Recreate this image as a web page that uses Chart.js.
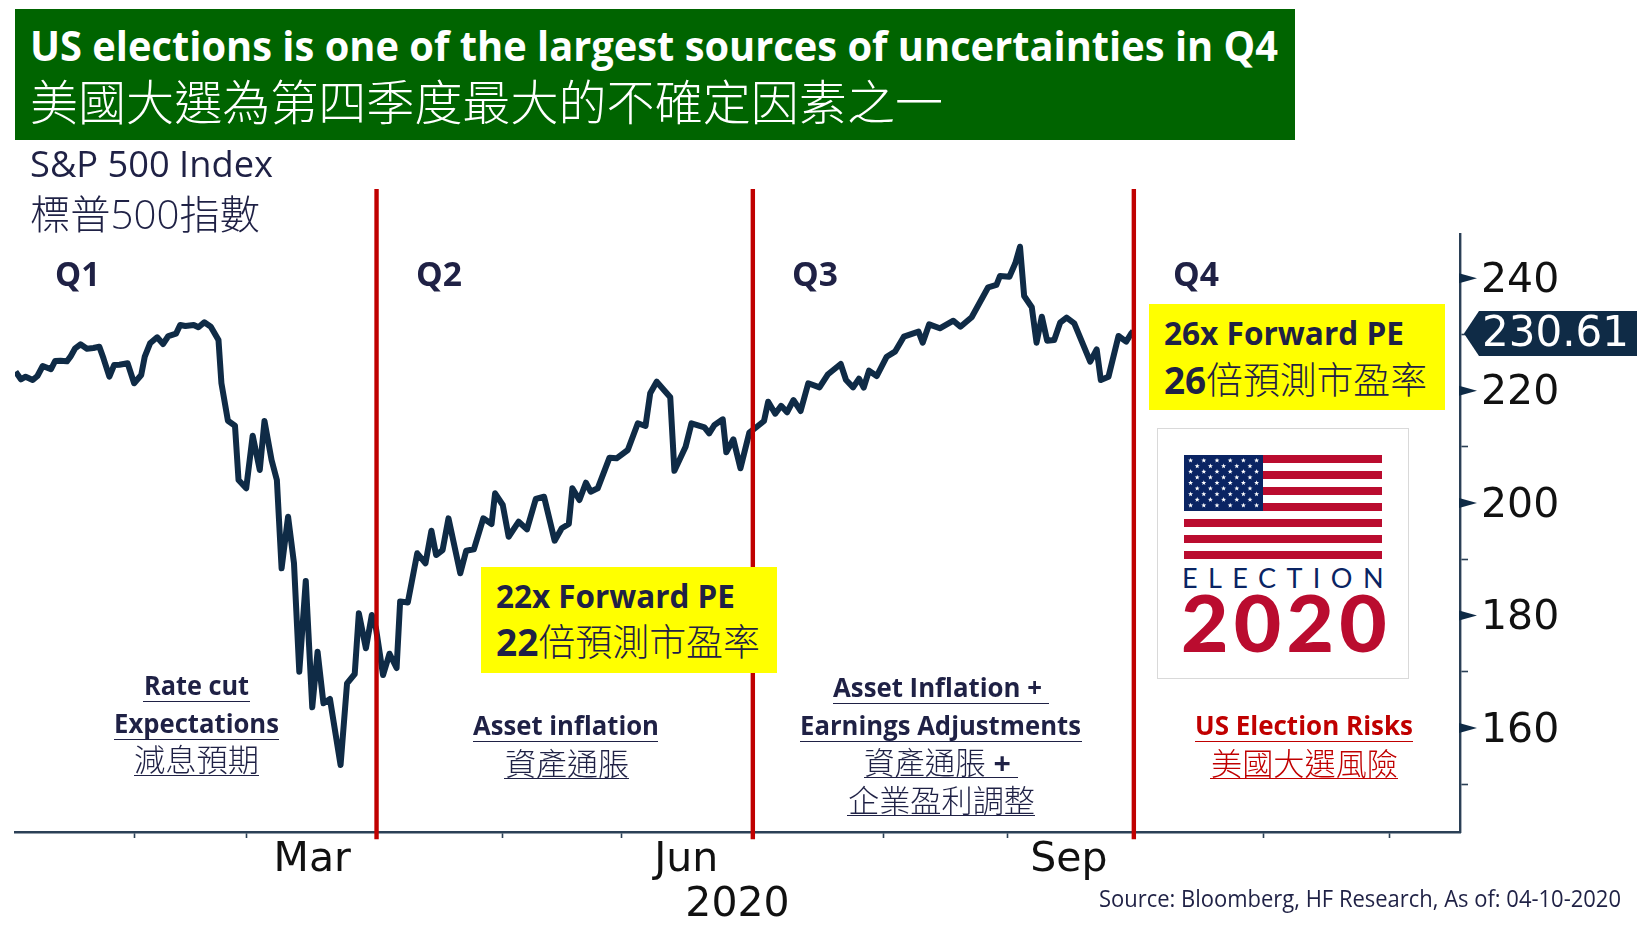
<!DOCTYPE html>
<html lang="zh-Hant">
<head>
<meta charset="utf-8">
<title>S&amp;P 500 Index</title>
<script src="https://cdn.jsdelivr.net/npm/chart.js@4/dist/chart.umd.min.js"></script>
<style>
html,body{margin:0;padding:0;background:#fff;width:1637px;height:930px;overflow:hidden}
#stage{position:relative;width:1637px;height:930px;overflow:hidden;font-family:'Open Sans','Noto Sans CJK TC',sans-serif}
canvas{position:absolute;left:0;top:0}
.box{position:absolute}
.t{position:absolute;white-space:nowrap;transform-origin:0 0;line-height:1.2}
.rule{position:absolute;height:0;border-top:1.6px solid}
</style>
</head>
<body>
<div id="stage">
<canvas id="c" width="1637" height="930"></canvas>
</div>
<script>
// Trading-day position of each vertex (0 = first day of the window)
const dayIndex = [0.1,1.0,1.8,3.0,3.8,4.7,6.1,6.8,7.7,8.8,9.4,10.2,11.1,12.2,13.3,14.3,15.0,16.0,16.8,17.7,19.1,20.2,21.4,22.0,22.9,24.1,25.1,26.0,27.3,28.0,28.9,30.3,31.1,32.1,33.2,34.5,35.0,36.1,37.3,37.9,39.2,40.3,41.5,42.3,43.5,44.4,45.2,46.3,47.3,48.2,49.3,50.4,51.3,52.3,53.4,55.2,56.3,57.6,58.3,59.5,60.5,61.2,62.4,63.5,64.7,65.3,66.6,68.2,69.6,70.6,71.4,72.5,73.5,75.5,76.5,77.8,79.4,80.8,81.4,82.7,83.7,85.4,86.8,88.3,89.7,91.5,92.7,93.9,94.5,95.7,96.8,97.6,98.8,100.8,102.0,103.9,105.6,106.9,107.7,108.8,111.1,111.8,113.7,114.7,116.9,117.7,118.6,120.0,120.6,121.8,123.0,124.5,125.1,127.0,127.7,128.9,129.9,130.9,132.0,133.2,134.5,136.4,137.8,140.0,140.9,142.1,143.1,143.9,144.8,146.1,147.8,149.2,150.7,153.2,153.9,155.0,156.8,159.1,160.3,162.2,165.0,166.4,167.0,168.6,169.6,170.4,171.1,172.4,173.2,174.1,175.0,176.2,177.2,178.3,179.6,182.3,183.4,184.1,185.4,187.1,188.4,189.2,189.6];
// S&P 500 index values read at those vertices
const closeValue = [223.38,222.03,222.49,221.9,222.61,224.39,223.81,225.28,225.34,225.23,226.05,227.54,228.25,227.47,227.6,227.83,225.76,222.49,224.57,224.62,224.87,221.32,222.79,226.05,228.43,229.5,228.31,229.73,230.14,231.69,231.51,231.69,231.28,232.17,231.39,229.02,221.32,214.66,213.77,204.11,202.63,211.99,205.89,214.61,207.67,204.11,188.39,197.58,189.34,170.0,186.14,163.67,173.56,164.38,165.14,153.39,167.93,169.59,180.39,174.16,180.09,177.72,169.41,173.2,170.66,182.51,182.31,191.07,189.29,195.09,190.76,191.65,197.29,187.51,191.53,191.78,197.29,196.28,201.74,199.66,194.02,196.69,195.33,200.73,201.14,193.31,195.52,196.28,202.63,200.55,203.63,202.03,202.63,208.08,207.97,209.45,214.2,213.72,219.54,221.6,218.82,205.76,210.03,214.2,213.49,212.42,213.9,214.91,209.04,211.35,206.19,212.53,213.01,214.61,218.04,215.91,217.31,216.17,218.34,216.39,221.32,220.6,222.88,224.75,221.9,220.6,222.15,220.57,223.56,222.61,226.05,226.94,229.61,230.5,228.54,231.81,231.1,232.45,231.39,233.06,238.4,238.81,240.41,240.28,242.67,245.62,236.85,234.84,228.54,233.17,228.9,229.02,232.1,232.99,231.99,225.16,227.36,221.9,222.49,229.73,228.72,230.09,230.61];
const quarterEndDay = [61.3,125.1,189.7];
const monthStartDay = [20.3,39.3,61.3,82.7,102.9,125,147.3,168.3,189.7,211.7,233];
const axisLabels = ['Mar','Jun','Sep'];
const axisLabelDay = [50.4,113.8,178.7];
const yearLabel = '2020';
const yMajorTicks = [160,180,200,220,240];
const yMinorTicks = [150,170,190,210,230];
const lastValueLabel = '230.61';
const redLineTop = 255.89, redLineBottom = 140.2;

const NAVY='#0F2B46', AXIS='#2B4056', RED='#C00000', INK='#1F2145';

const majorMarks = {
  id:'majorMarks',
  afterDraw(chart){
    const {ctx, scales:{y}} = chart;
    const x0 = y.left;
    ctx.save();
    ctx.fillStyle = NAVY;
    yMajorTicks.forEach(v=>{
      const p = y.getPixelForValue(v);
      ctx.beginPath();
      ctx.moveTo(x0-1,p-5);ctx.lineTo(x0+17,p);ctx.lineTo(x0-1,p+5);ctx.closePath();ctx.fill();
    });
    const cy = y.getPixelForValue(closeValue[closeValue.length-1])+2.5;
    ctx.beginPath();
    ctx.moveTo(x0+4,cy);ctx.lineTo(x0+19,cy-22.5);ctx.lineTo(1637,cy-22.5);ctx.lineTo(1637,cy+22.5);ctx.lineTo(x0+19,cy+22.5);ctx.closePath();ctx.fill();
    ctx.fillStyle='#fff';
    ctx.font="42px 'DejaVu Sans'";
    ctx.textBaseline='middle';ctx.textAlign='left';
    ctx.fillText(lastValueLabel,x0+22,cy+2);
    ctx.restore();
  }
};

new Chart(document.getElementById('c'),{
  type:'line',
  data:{datasets:[
    ...quarterEndDay.map(d=>({
      label:'Quarter end',
      data:[{x:d,y:redLineBottom},{x:d,y:redLineTop}],
      borderColor:RED,borderWidth:4.4,pointRadius:0,clip:false,order:0,borderCapStyle:'butt'
    })),
    {
      label:'S&P 500 Index',
      data:dayIndex.map((d,i)=>({x:d,y:closeValue[i]})),
      borderColor:NAVY,borderWidth:6,pointRadius:0,tension:0,borderJoinStyle:'round',order:1
    }
  ]},
  plugins:[majorMarks],
  options:{
    responsive:false,animation:false,devicePixelRatio:1,
    layout:{padding:{left:15,top:234,right:0,bottom:0}},
    plugins:{legend:{display:false},tooltip:{enabled:false},title:{display:false}},
    scales:{
      x:{
        type:'linear',position:'bottom',min:0,max:245,
        afterBuildTicks(s){
          s.ticks=[...monthStartDay,...axisLabelDay].sort((a,b)=>a-b).map(v=>({value:v}));
        },
        afterFit(s){s.height=98;},
        border:{display:true,color:AXIS,width:2.4},
        grid:{
          drawOnChartArea:false,tickLength:6,tickWidth:1.6,
          tickColor:c=>(c.tick&&axisLabelDay.includes(c.tick.value))?'rgba(0,0,0,0)':AXIS
        },
        ticks:{
          autoSkip:false,maxRotation:0,minRotation:0,padding:-2,color:'#111',
          font:{family:'DejaVu Sans',size:41},
          callback(v){const i=axisLabelDay.indexOf(v);return i>=0?axisLabels[i]:'';}
        },
        title:{display:true,text:yearLabel,color:'#111',font:{family:'DejaVu Sans',size:41},padding:{top:0,bottom:0.4}}
      },
      y:{
        type:'linear',position:'right',min:141.48,max:247.88,
        afterBuildTicks(s){
          s.ticks=[...yMinorTicks,...yMajorTicks].sort((a,b)=>a-b).map(v=>({value:v}));
        },
        afterFit(s){s.width=177;},
        border:{display:true,color:AXIS,width:2.4},
        grid:{drawOnChartArea:false,tickLength:8,tickWidth:1.6,tickColor:AXIS},
        ticks:{
          autoSkip:false,padding:13,labelOffset:3,color:'#111',
          font:{family:'DejaVu Sans',size:41},
          callback(v){return yMajorTicks.includes(v)?String(v):'';}
        }
      }
    }
  }
});

// ---- page furniture on top of the chart ----
const stage=document.getElementById('stage');
function box(l,t,r,b,bg,extra){
  const d=document.createElement('div');d.className='box';
  d.style.cssText=`left:${l}px;top:${t}px;width:${r-l}px;height:${b-t}px;background:${bg};${extra||''}`;
  stage.appendChild(d);return d;
}
function T(html,x,base,w,size,o={}){
  const d=document.createElement('div');d.className='t';
  d.innerHTML=html;
  d.style.left=x+'px';d.style.top='0px';
  d.style.fontSize=size+'px';
  d.style.fontWeight=o.weight||400;
  d.style.color=o.color||INK;
  if(o.family)d.style.fontFamily=o.family;
  if(o.ls)d.style.letterSpacing=o.ls+'px';
  const p=document.createElement('span');
  p.style.cssText='display:inline-block;width:0;height:0';
  d.appendChild(p);
  stage.appendChild(d);
  const b=p.getBoundingClientRect().bottom-d.getBoundingClientRect().top;
  d.removeChild(p);
  d.style.top=(base-b)+'px';
  const mw=d.getBoundingClientRect().width;
  d.style.transform=`scaleX(${w/mw})`;
  return d;
}
function rule(l,r,y,c){
  const d=document.createElement('div');d.className='rule';
  d.style.cssText=`left:${l}px;top:${y-1}px;width:${r-l}px;border-color:${c||INK}`;
  stage.appendChild(d);
}
const CJK={weight:300};
// header
box(15,9,1295,140,'#006400');
T('US elections is one of the largest sources of uncertainties in Q4',30,61,1248,42,{weight:700,color:'#fff'});
T('美國大選為第四季度最大的不確定因素之一',30,120,913,48,{weight:300,color:'#fff'});
T('S&amp;P 500 Index',30,177,243,37);
T('標普500指數',30,229,230,40,CJK);
// quarters
T('Q1',54.5,286,45,34,{weight:700});
T('Q2',415.5,286,46,34,{weight:700});
T('Q3',791.5,286,46,34,{weight:700});
T('Q4',1172.5,286,46,34,{weight:700});
// PE boxes
box(481,567,777,673,'#FFFF00');
T('22x Forward PE',496,608,239,33,{weight:700});
T('<b>22</b><span style="font-weight:300">倍預測市盈率</span>',496,656,264,37);
box(1149,304,1445,410,'#FFFF00');
T('26x Forward PE',1164,345,240,33,{weight:700});
T('<b>26</b><span style="font-weight:300">倍預測市盈率</span>',1164,394,263,37);
// Quarter captions
T('Rate cut',144,695,105,27,{weight:700});rule(143,250,702);
T('Expectations',114,733,165,27,{weight:700});rule(114,279,740);
T('減息預期',134,771,125,31,CJK);rule(134,259,776);
T('Asset inflation',473,735,186,27,{weight:700});rule(473,658,742);
T('資產通脹',505,775,124,31,CJK);rule(504,629,779);
T('Asset Inflation +',833,697,209,27,{weight:700});rule(833,1049,704);
T('Earnings Adjustments',800,735,281,27,{weight:700});rule(800,1082,742);
T('<span style="font-weight:300">資產通脹 </span><b>+</b>',864,774,147,31);rule(864,1018,778);
T('企業盈利調整',848,812,187,31,CJK);rule(847,1035,816);
T('US Election Risks',1195,735,218,27,{weight:700,color:RED});rule(1195,1413,742,RED);
T('美國大選風險',1211,775,187,31,{weight:300,color:RED});rule(1210,1398,779,RED);
// Source
T('Source: Bloomberg, HF Research, As of: 04-10-2020',1099,907,522,23);
// Election logo
box(1157,428,1409,679,'#fff','box-sizing:border-box;border:1.6px solid #D9D9D9');
const FRED='#BA0C2F',FNAVY='#0A2463';
let svg=`<svg xmlns="http://www.w3.org/2000/svg" width="198" height="105" style="position:absolute;left:1184px;top:455px">`;
for(let i=0;i<7;i++)svg+=`<rect x="0" y="${i*16}" width="198" height="8" fill="${FRED}"/>`;
svg+=`<rect x="0" y="0" width="79" height="56" fill="${FNAVY}"/>`;
function star(cx,cy,r){
  let s='';
  for(let i=0;i<10;i++){
    const a=-Math.PI/2+i*Math.PI/5,q=i%2?r*0.42:r;
    s+=(cx+q*Math.cos(a)).toFixed(2)+','+(cy+q*Math.sin(a)).toFixed(2)+' ';
  }
  return `<polygon points="${s}" fill="#fff"/>`;
}
for(let row=0;row<9;row++){
  const n=row%2?5:6,off=row%2?13.2:6.6;
  for(let i=0;i<n;i++)svg+=star(off+i*13.2,5.5+row*5.6,2.6);
}
svg+='</svg>';
stage.insertAdjacentHTML('beforeend',svg);
T('ELECTION',1182,587.5,212,27,{family:'Lato',color:FNAVY,ls:10.4});
T('2020',1181,652,211,78,{family:'Lato',weight:900,color:FRED,ls:5});
</script>
</body>
</html>
